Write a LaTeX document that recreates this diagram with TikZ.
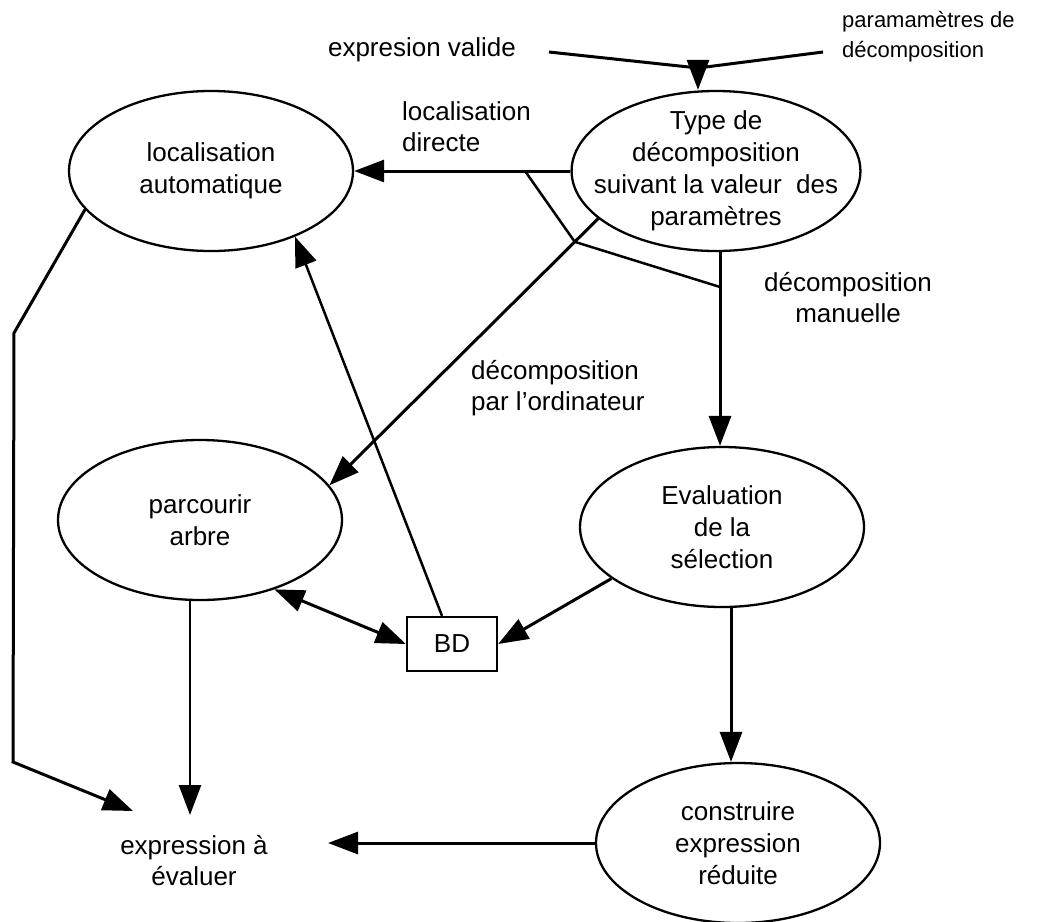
\documentclass[tikz,border=0pt]{standalone}
\usepackage{fontspec}
\setmainfont{Liberation Sans}
\usetikzlibrary{shapes.geometric,arrows.meta,calc}
\begin{document}
\begin{tikzpicture}[x=1pt,y=-1pt,
  proc/.style={ellipse,draw,line width=2.3pt,minimum width=284pt,minimum height=160pt,
    inner sep=0pt,align=center,font=\fontsize{26}{32}\selectfont},
  lbl/.style={inner sep=0pt,font=\fontsize{26}{31}\selectfont},
  small/.style={inner sep=0pt,font=\fontsize{22}{30}\selectfont},
  link/.style={line width=3pt},
  thin/.style={line width=2.5pt},
  arr/.style={link,-{Triangle[length=30pt,width=22pt]}},
  tarr/.style={thin,-{Triangle[length=30pt,width=22pt]}},
  darr/.style={link,{Triangle[length=30pt,width=22pt]}-{Triangle[length=30pt,width=22pt]}}]

\useasboundingbox (0,0) rectangle (1040,921);

% processes
\node[proc,inner xsep=-20pt,inner ysep=-9pt] (type) at (716,171)
  {Type de\\d\'ecomposition\\suivant la valeur\ \ des\\param\`etres};
\node[proc] (la)   at (211,171) {localisation\\automatique};
\node[proc] (pa)   at (200,520) {parcourir\\arbre};
\node[proc] (ev)   at (722,527) {Evaluation\\de la\\s\'election};
\node[proc] (cons) at (738,843) {construire\\expression\\r\'eduite};
\node[draw,line width=2.3pt,minimum width=90pt,minimum height=54pt,inner sep=0pt,
      font=\fontsize{26}{31}\selectfont] (bd) at (452,644) {BD};

% inputs and output
\node[lbl] (valide) at (422,50) {expresion valide};
\node[small,anchor=west,align=left] (param) at (842,37) {paramam\`etres de\\d\'ecomposition};
\node[lbl,align=center] (expr) at (194,861) {expression \`a\\\'evaluer};

% edge labels
\node[lbl,anchor=west,align=left] (ldir) at (402,127) {localisation\\directe};
\node[lbl,align=center] (lman) at (848,298) {d\'ecomposition\\manuelle};
\node[lbl,anchor=west,align=left] (lord) at (471,388) {d\'ecomposition\\par l'ordinateur};

% free ends
\coordinate (a1) at (549,52);
\coordinate (a2) at (823,52);
\coordinate (apex) at (698,68);
\coordinate (apextop) at (698,60);
\coordinate (vx) at (720,0);
\coordinate (cx) at (731,0);
\coordinate (px) at (190,0);
\coordinate (k1) at (14,333);
\coordinate (k2) at (13,762);
\coordinate (etip) at (133,811);
\coordinate (ctip) at (328,843);

% the two inputs merge into the decomposition choice
\draw[link] (a1) -- (apex) -- (a2);
\draw[arr] (apextop) -- (apextop |- type.north);

% branches leaving the decomposition choice
\draw[arr] (type.west) -- (la.east);
\draw[arr] (type.202) -- (pa.15);
\draw[arr] (type.south -| vx) -- (ev.north -| vx);

% bar joining the three branches
\coordinate (j0) at (525,171);
\coordinate (j1) at ($(type.202)!0.087!(pa.15)$);
\coordinate (j2) at (720,287);
\draw[thin] (j0) -- (j1) -- (j2);

% database links
\draw[tarr] ([xshift=-10pt]bd.north) -- (la.-38);
\draw[darr] (pa.-43) -- (bd.west);
\draw[arr] (ev.205) -- (bd.east);

% towards the expression to evaluate
\draw[arr] (la.197) -- (k1) -- (k2) -- (etip);
\draw[tarr] (pa.south -| px) -- (px |- 0,815);
\draw[arr] (ev.south -| cx) -- (cons.north -| cx);
\draw[arr] (cons.west) -- (ctip);

\end{tikzpicture}
\end{document}
